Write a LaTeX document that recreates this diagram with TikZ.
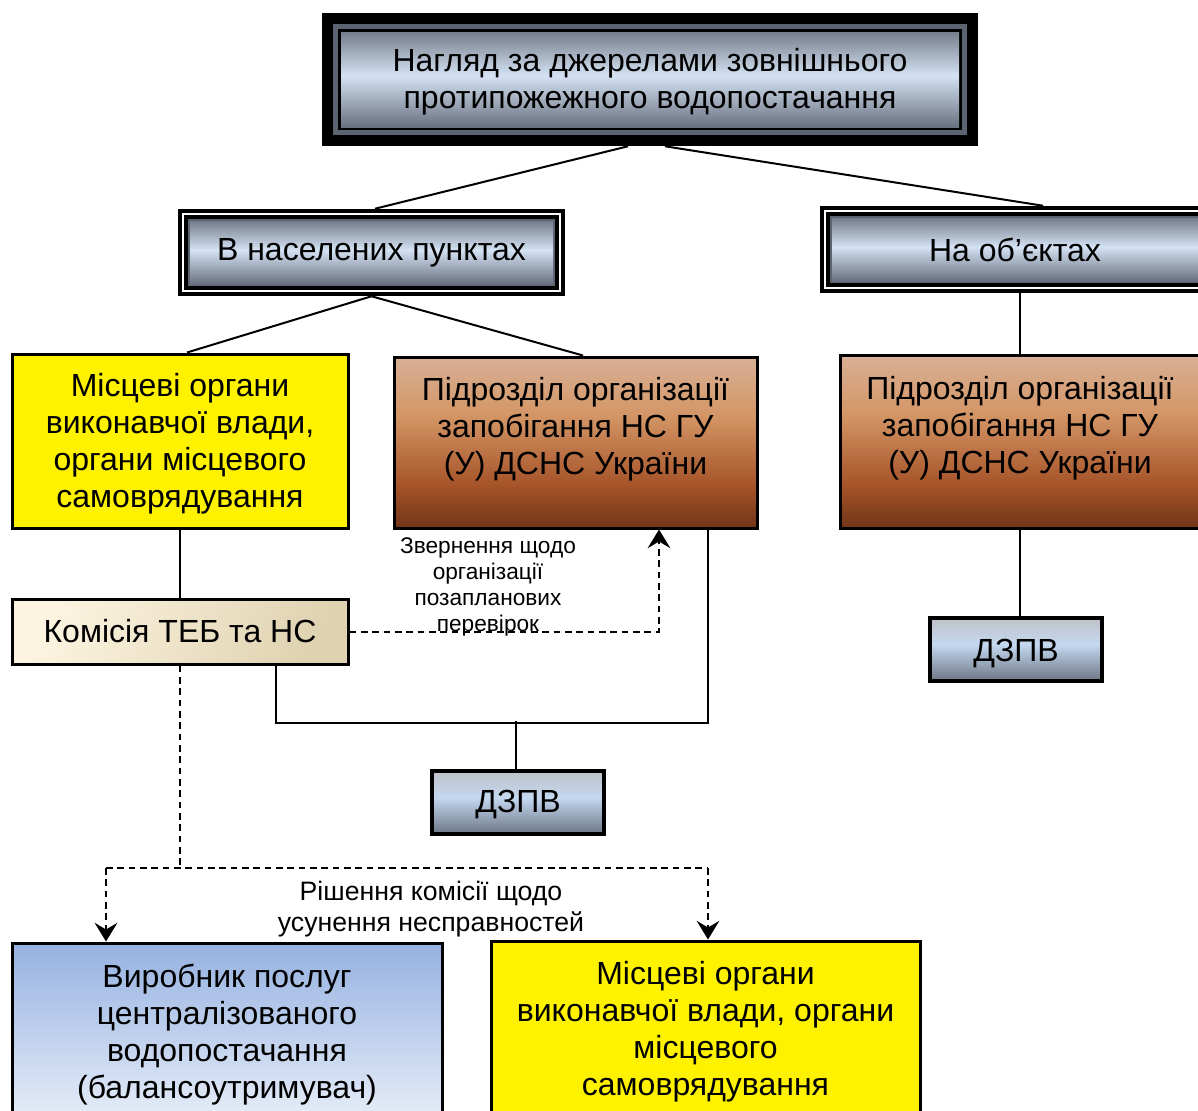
\documentclass[tikz,border=0pt]{standalone}
\usepackage{fontspec}
\setmainfont{Liberation Sans}
\usetikzlibrary{calc,arrows.meta}
\definecolor{mT}{RGB}{118,126,140}
\definecolor{mM}{RGB}{212,226,243}
\definecolor{mB}{RGB}{105,113,128}
\definecolor{frgray}{RGB}{92,100,114}
\definecolor{brT}{RGB}{216,176,150}
\definecolor{brU}{RGB}{212,150,102}
\definecolor{brM}{RGB}{165,82,40}
\definecolor{brB}{RGB}{112,54,24}
\definecolor{dzT}{RGB}{192,194,200}
\definecolor{dzM}{RGB}{196,216,240}
\definecolor{dzB}{RGB}{108,118,133}
\definecolor{blT}{RGB}{150,178,225}
\definecolor{blB}{RGB}{230,237,248}
\definecolor{koL}{RGB}{252,244,224}
\definecolor{koR}{RGB}{224,211,178}
\pgfdeclareverticalshading{metalsh}{100bp}{color(0bp)=(mB); color(25bp)=(mB); color(52bp)=(mM); color(75bp)=(mT); color(100bp)=(mT)}
\pgfdeclareverticalshading{brownsh}{100bp}{color(0bp)=(brB); color(25bp)=(brB); color(37bp)=(brM); color(58bp)=(brU); color(75bp)=(brT); color(100bp)=(brT)}
\pgfdeclareverticalshading{dzsh}{100bp}{color(0bp)=(dzB); color(25bp)=(dzB); color(54bp)=(dzM); color(75bp)=(dzT); color(100bp)=(dzT)}
\newcommand\frlayer[2]{\path[#1] ([shift={(#2,#2)}]path picture bounding box.south west) rectangle ([shift={(-#2,-#2)}]path picture bounding box.north east);}
\tikzset{
  every node/.style={font=\fontsize{24}{27.75}\selectfont, align=center, inner sep=0pt},
  framebig/.style={fill=black, path picture={
      \frlayer{fill=frgray}{8.25pt}
      \frlayer{fill=black}{12pt}
      \frlayer{shade,shading=metalsh}{14.25pt}}},
  framesmall/.style={fill=black, path picture={
      \frlayer{fill=white}{3pt}
      \frlayer{fill=black}{4.5pt}
      \frlayer{fill=frgray}{7.5pt}
      \frlayer{shade,shading=metalsh}{9pt}}},
  yelbox/.style={draw=black, line width=2.25pt, fill=yellow},
  brbox/.style={draw=black, line width=2.25pt, shade, shading=brownsh},
  kombox/.style={draw=black, line width=2.25pt, top color=koL, bottom color=koR, shading angle=60},
  dzbox/.style={draw=black, line width=2.6pt, shade, shading=dzsh},
  bluebox/.style={draw=black, line width=2.25pt, top color=blT, bottom color=blB},
  conn/.style={line width=1.5pt},
  dconn/.style={line width=1.5pt, dash pattern=on 5pt off 3.5pt},
  tip/.style={-{Stealth[length=14pt, width=17pt, inset=5pt]}},
  smalllabel/.style={font=\fontsize{17}{19.5}\selectfont},
  midlabel/.style={font=\fontsize{20}{23.25}\selectfont}
}
\begin{document}
\begin{tikzpicture}[x=0.75pt, y=-0.75pt]
\useasboundingbox (0,0) rectangle (1198,1110);
\clip (0,0) rectangle (1198,1110);
\fill[white] (0,0) rectangle (1198,1110);

% boxes
\node[framebig, minimum width=492pt, minimum height=99.75pt] (top) at (650,79.5) {};
\node (topt) at ([yshift=-1.5pt]top.center)
  {Нагляд за джерелами зовнішнього\\протипожежного водопостачання};
\node[framesmall, minimum width=290.25pt, minimum height=65.25pt] (nasel) at (371.5,252.5)
  {В населених пунктах};
\node[framesmall, minimum width=292.5pt, minimum height=65.25pt] (obj) at (1015,249.5)
  {На об’єктах};
\node[yelbox, minimum width=252pt, minimum height=130.5pt] (yel1) at (180,441) {};
\node (yel1t) at ([yshift=-2.25pt]yel1.center)
  {Місцеві органи\\виконавчої влади,\\органи місцевого\\самоврядування};
\node[brbox, minimum width=272.25pt, minimum height=128.25pt] (br1) at (575.5,442.5) {};
\node (br1t) at ([yshift=10.2pt]br1.center)
  {Підрозділ організації\\запобігання НС ГУ\\(У) ДСНС України};
\node[brbox, minimum width=270pt, minimum height=129.75pt] (br2) at (1020,441.5) {};
\node (br2t) at ([yshift=10.2pt]br2.center)
  {Підрозділ організації\\запобігання НС ГУ\\(У) ДСНС України};
\node[kombox, minimum width=252pt, minimum height=48.75pt] (kom) at (180,631.5)
  {Комісія ТЕБ та НС};
\node[dzbox, minimum width=129pt, minimum height=47.25pt] (dz1) at (518,802.5) {};
\node (dz1t) at ([yshift=-1.5pt]dz1.center) {ДЗПВ};
\node[dzbox, minimum width=129pt, minimum height=47.25pt] (dz2) at (1016,649.5) {};
\node (dz2t) at ([yshift=-3pt]dz2.center) {ДЗПВ};
\node[bluebox, minimum width=322.5pt, minimum height=132.75pt] (blue) at (227,1031.5) {};
\node (bluet) at ([yshift=-2.25pt]blue.center)
  {Виробник послуг\\централізованого\\водопостачання\\(балансоутримувач)};
\node[yelbox, minimum width=321.75pt, minimum height=131.25pt] (yel2) at (705.5,1028.5) {};
\node (yel2t) at ([yshift=-2.25pt]yel2.center)
  {Місцеві органи\\виконавчої влади, органи\\місцевого\\самоврядування};

% labels
\node[smalllabel] (lab1) at (488,587)
  {Звернення щодо\\організації\\позапланових\\перевірок};
\node[midlabel] (lab2) at (431,909)
  {Рішення комісії щодо\\усунення несправностей};

% solid connectors
\draw[conn] ($(top.south)+(-22,0)$) -- ($(nasel.north)+(3.5,0)$);
\draw[conn] ($(top.south)+(15,0)$) -- ($(obj.north)+(28,0)$);
\draw[conn] (nasel.south) -- ($(yel1.north)+(7,0)$);
\draw[conn] (nasel.south) -- ($(br1.north)+(7.5,0)$);
\draw[conn] (br2.north |- obj.south) -- (br2.north);
\draw[conn] (yel1.south) -- (kom.north);
\draw[conn] (br2.south) -- (br2.south |- dz2.north);
\coordinate (bus) at (516,721);
\draw[conn] ($(kom.south)+(96,0)$) |- ($(br1.south)+(132.5,193)$) -- ($(br1.south)+(132.5,0)$);
\draw[conn] (dz1.north -| bus) -- (bus);

% dashed connectors
\draw[dconn, tip] (kom.east) -| ($(br1.south)+(83.5,0)$);
\coordinate (dl) at (106,868);
\coordinate (dr) at (708,868);
\draw[dconn] (kom.south) -- (kom.south |- dl);
\draw[dconn] (dl) -- (dr);
\draw[dconn, tip] (dl) -- (dl |- blue.north);
\draw[dconn, tip] (dr) -- (dr |- yel2.north);
\end{tikzpicture}
\end{document}
